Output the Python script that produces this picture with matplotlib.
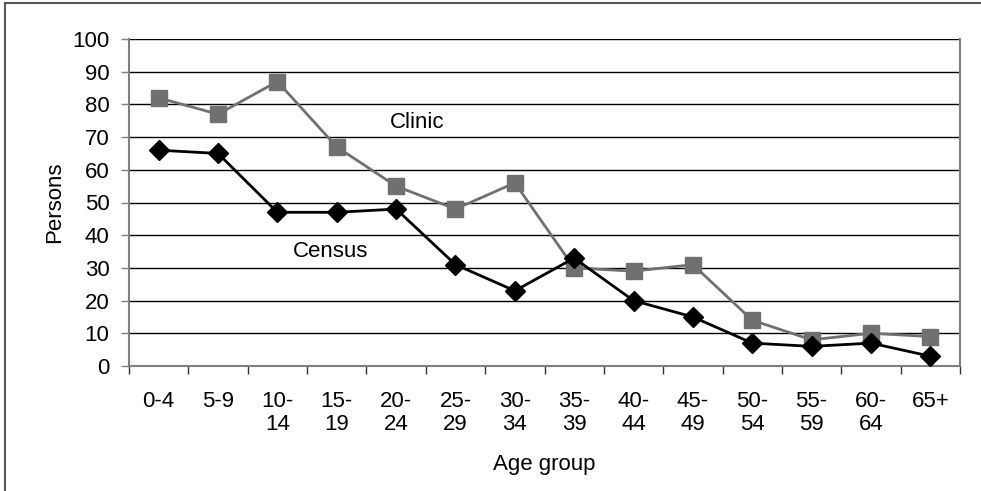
import matplotlib
matplotlib.use("Agg")
import matplotlib.pyplot as plt
from matplotlib.patches import Rectangle
import numpy as np

age_groups = ["0-4", "5-9", "10-\n14", "15-\n19", "20-\n24", "25-\n29", "30-\n34",
              "35-\n39", "40-\n44", "45-\n49", "50-\n54", "55-\n59", "60-\n64", "65+"]
clinic = [82, 77, 87, 67, 55, 48, 56, 30, 29, 31, 14, 8, 10, 9]
census = [66, 65, 47, 47, 48, 31, 23, 33, 20, 15, 7, 6, 7, 3]
y_ticks = list(range(0, 101, 10))

plt.rcParams['font.family'] = ['Liberation Sans', 'DejaVu Sans']
FS = 16

fig = plt.figure(figsize=(9.81, 4.91), dpi=100)
fig.patch.set_facecolor("white")
fig.patches.append(Rectangle((4.5 / 981, -0.01), 1.0, 1 - 3 / 491 + 0.01,
                             transform=fig.transFigure, fill=False,
                             edgecolor="#555555", linewidth=1.5))

ax = fig.add_axes([129 / 981, 1 - 366 / 491, (960 - 129) / 981, (366 - 39) / 491])
x = np.arange(len(age_groups))

for yv in y_ticks[1:]:
    ax.axhline(yv, color="black", linewidth=1.0, zorder=1)

ax.plot(x, clinic, color="#707070", linewidth=2, marker="s", markersize=11,
        markeredgecolor="#707070", zorder=3)
ax.plot(x, census, color="#000000", linewidth=2, marker="D", markersize=10,
        markeredgecolor="#000000", zorder=4)

ax.text(4.35, 74.6, "Clinic", fontsize=FS, ha="center", va="center")
ax.text(2.9, 34.9, "Census", fontsize=FS, ha="center", va="center")

ax.set_xlim(-0.5, len(age_groups) - 0.5)
ax.set_ylim(0, 100)
ax.set_yticks(y_ticks)
ax.tick_params(axis="y", labelsize=FS, length=6, width=1, color="#808080", pad=8)

ax.set_xticks(x)
ax.set_xticklabels(age_groups, fontsize=FS, linespacing=1.1)
ax.set_xticks(np.arange(-0.5, len(age_groups)), minor=True)
ax.tick_params(axis="x", which="major", length=0, pad=18)
ax.tick_params(axis="x", which="minor", length=6, width=1, color="#333333")

ax.spines["top"].set_visible(False)
for side in ["left", "right", "bottom"]:
    ax.spines[side].set_color("#808080")
    ax.spines[side].set_linewidth(1.5)

ax.set_ylabel("Persons", fontsize=FS, labelpad=5)
ax.set_xlabel("Age group", fontsize=FS, labelpad=14)

fig.savefig("out.png", dpi=100, facecolor="white")
